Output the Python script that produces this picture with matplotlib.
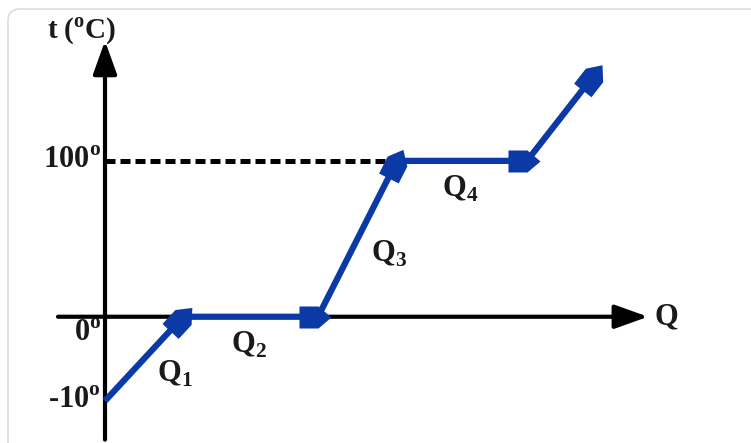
import numpy as np
import matplotlib
matplotlib.use("Agg")
from matplotlib import pyplot as plt
from matplotlib.markers import MarkerStyle
from matplotlib.path import Path
from matplotlib.patches import FancyBboxPatch
from matplotlib.transforms import Affine2D

# heating curve (schematic): heat supplied Q and temperature t
q = [0, 78, 213, 292, 422, 489]
t = [-10, 0, 0, 100, 100, 155]
seg_labels = ["Q$_\\mathregular{1}$", "Q$_\\mathregular{2}$", "Q$_\\mathregular{3}$", "Q$_\\mathregular{4}$"]
tick_vals = [100, 0, -10]
tick_text = ["100$^\\mathregular{o}$", "0$^\\mathregular{o}$", "-10$^\\mathregular{o}$"]

blue = "#0B3AA6"
serif = dict(family="Liberation Serif", weight="bold", color="#1a1a1a")

# below zero the axis is stretched (schematic)
k = 5.4
def fwd(v):
    v = np.asarray(v, dtype=float)
    return np.where(v < 0, v * k, v)
def inv(v):
    v = np.asarray(v, dtype=float)
    return np.where(v < 0, v / k, v)

fig = plt.figure(figsize=(7.51, 4.43), dpi=100)
ax = fig.add_axes([0, 0, 1, 1])
ax.set_yscale("function", functions=(fwd, inv))
ax.set_xlim(-105, 646)
ax.set_ylim(-15.0, 203.2)
ax.axis("off")

# faint frame (top and left edges only visible)
fig.patches.append(FancyBboxPatch((8, -100), 800, 534, boxstyle="round,pad=0,rounding_size=12",
                                  transform=None, fc="none", ec="#dddddd", lw=1.2))

# axes with arrows
arr = dict(arrowstyle="-|>,head_length=1.45,head_width=0.52", lw=3, color="black",
           mutation_scale=14, shrinkA=0, shrinkB=0)
ax.annotate("", xy=(0, 177), xytext=(0, -14.6), arrowprops=arr)
ax.annotate("", xy=(543, 0), xytext=(-47, 0), arrowprops=arr)

# dashed guide at 100
ax.plot([0, q[3]], [100, 100], color="black", lw=3.6, linestyle=(0, (2.0, 1.0)),
        solid_capstyle="butt", dash_capstyle="butt", zorder=2)

# curve
ax.plot(q, t, color=blue, lw=4.5, solid_capstyle="butt", zorder=3)

# pentagon heads at each segment end
head = Path([(-19, -11), (0, -11), (13, 0), (0, 11), (-19, 11), (-19, -11)],
            [Path.MOVETO, Path.LINETO, Path.LINETO, Path.LINETO, Path.LINETO, Path.CLOSEPOLY])
fig.canvas.draw()
pts = ax.transData.transform(np.column_stack([q, t]))
for i in range(1, len(q)):
    d = pts[i] - pts[i - 1]
    ang = np.degrees(np.arctan2(d[1], d[0]))
    m = MarkerStyle(head, transform=Affine2D().rotate_deg(ang))
    ax.plot(q[i], t[i], marker=m, markersize=27.4, color=blue, mec=blue, mew=0, zorder=4)

# labels
tick_off = [0, -17, 0]
for v, s, off in zip(tick_vals, tick_text, tick_off):
    ax.annotate(s, xy=(-4, v), xytext=(0, off), textcoords="offset pixels",
                ha="right", va="center", fontsize=22, **serif)
ax.text(-58, 183, "t ($^\\mathregular{o}$C)", ha="left", va="center", fontsize=21, **serif)
ax.text(550, 0, "Q", ha="left", va="center", fontsize=22, **serif)

seg_pos = [(70, -6.8), (144, -3.3), (284, 40), (355, 82)]
for (x, y), s in zip(seg_pos, seg_labels):
    ax.text(x, y, s, ha="center", va="center", fontsize=22, **serif)

fig.savefig("out.png", dpi=100)
